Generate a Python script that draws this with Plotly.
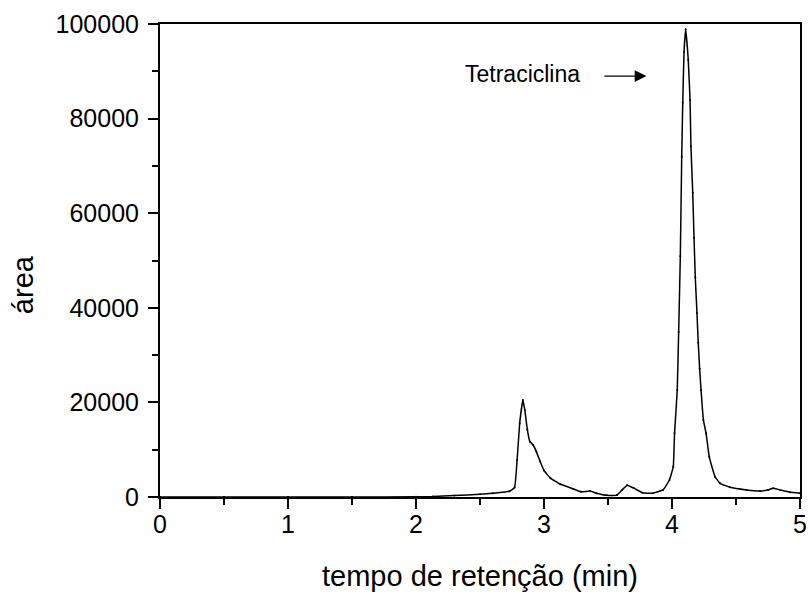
import plotly.graph_objects as go

time_min = [0.0, 0.5, 1.0, 1.5, 2.0, 2.13, 2.3, 2.5, 2.6, 2.73, 2.77, 2.79, 2.81, 2.835,
            2.85, 2.87, 2.89, 2.915, 2.94, 2.97, 3.0, 3.05, 3.125, 3.23, 3.29, 3.36,
            3.41, 3.49, 3.57, 3.61, 3.65, 3.7, 3.77, 3.85, 3.93, 3.98, 4.01, 4.02,
            4.041, 4.052, 4.065, 4.076, 4.084, 4.094, 4.107, 4.127, 4.141, 4.148,
            4.162, 4.172, 4.182, 4.195, 4.205, 4.216, 4.227, 4.245, 4.266, 4.291,
            4.336, 4.375, 4.453, 4.583, 4.687, 4.75, 4.79, 4.844, 4.922, 5.0]
area = [0, 0, 0, 0, 50, 100, 300, 600, 800, 1200, 2000, 7800, 15600, 20500,
        18400, 14200, 11700, 11000, 9600, 7500, 5600, 4000, 2750, 1700, 1100, 1250,
        800, 350, 400, 1500, 2500, 1900, 900, 800, 1500, 3600, 6400, 13500,
        22600, 34900, 50900, 72000, 83400, 94100, 98900, 92400, 83900, 74100,
        64300, 54800, 46400, 38900, 32600, 27100, 22600, 16300, 13500, 8500,
        4300, 2900, 2050, 1500, 1270, 1500, 1850, 1500, 1000, 800]

x_ticks = [0, 1, 2, 3, 4, 5]
y_ticks = [0, 20000, 40000, 60000, 80000, 100000]

font_family = "Liberation Sans, Arial, sans-serif"

fig = go.Figure()
fig.add_trace(go.Scatter(
    x=time_min, y=area, mode="lines+markers",
    line=dict(color="black", width=1.5, shape="spline", smoothing=0.3),
    marker=dict(color="black", size=2),
    showlegend=False,
))

# arrow
fig.add_annotation(
    x=3.8, y=89000, ax=3.46, ay=89000, axref="x", ayref="y", xref="x", yref="y",
    showarrow=True, arrowhead=2, arrowsize=1.8, arrowwidth=1.3, arrowcolor="black", text="",
)
fig.add_annotation(
    x=2.83, y=89500, xref="x", yref="y", text="Tetraciclina", showarrow=False,
    font=dict(family=font_family, size=23, color="black"),
)
# axis titles
fig.add_annotation(
    x=0.5, y=-0.167, xref="paper", yref="paper", text="tempo de retenção (min)",
    showarrow=False, xanchor="center", yanchor="middle",
    font=dict(family=font_family, size=29, color="black"),
)
fig.add_annotation(
    x=-0.214, y=0.448, xref="paper", yref="paper", text="área", textangle=-90,
    showarrow=False, xanchor="center", yanchor="middle",
    font=dict(family=font_family, size=29, color="black"),
)

axis_common = dict(
    showgrid=False, zeroline=False, showline=True, linecolor="black", linewidth=2,
    mirror=True, ticks="outside", ticklen=10, tickwidth=2, tickcolor="black",
    tickfont=dict(family=font_family, size=25, color="black"),
    minor=dict(ticks="outside", ticklen=6, tickwidth=1.5, tickcolor="black"),
    automargin=False,
)

fig.update_xaxes(
    range=[0, 5], tickvals=x_ticks, ticktext=[str(v) for v in x_ticks],
    minor_dtick=0.5, ticklabelstandoff=-6,
    **axis_common,
)
fig.update_yaxes(
    range=[0, 100000], tickvals=y_ticks, ticktext=[str(v) for v in y_ticks],
    minor_dtick=10000, ticklabelstandoff=4,
    **axis_common,
)

fig.update_layout(
    width=809, height=592,
    margin=dict(l=160, r=9, t=24, b=95),
    paper_bgcolor="white", plot_bgcolor="white",
)

fig.write_html(
    "out.html",
    config={"displayModeBar": False},
    post_script="document.body.style.margin='0';document.body.style.overflow='hidden';",
)
